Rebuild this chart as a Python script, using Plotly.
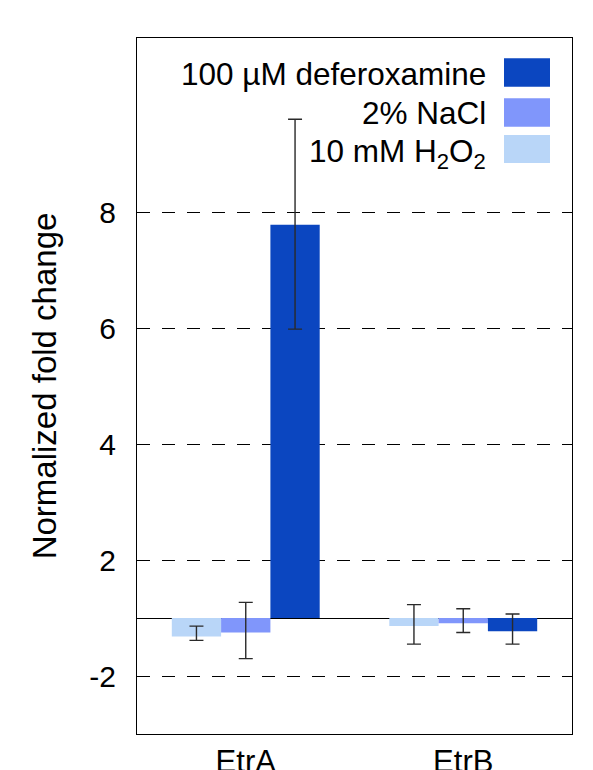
import plotly.graph_objects as go

genes = ["EtrA", "EtrB"]
treatments = ["10 mM H<sub>2</sub>O<sub>2</sub>", "2% NaCl", "100 µM deferoxamine"]
colors = ["#b9d6f8", "#8096fb", "#0b46c0"]

fold_h2o2 = [-1.32, -1.14]
fold_nacl = [-1.25, -1.09]
fold_dfo = [7.78, -1.23]

err_hi_h2o2 = [-1.14, 1.23]
err_lo_h2o2 = [-1.385, -1.45]
err_hi_nacl = [1.27, 1.16]
err_lo_nacl = [-1.70, -1.25]
err_hi_dfo = [9.60, 1.07]
err_lo_dfo = [5.98, -1.45]

tick_labels = ["8", "6", "4", "2", "-2"]
tick_values = [8, 6, 4, 2, -2]


# fold-change axis: +1 and -1 collapse onto the baseline
def to_axis(v):
    return v - 1 if v >= 1 else v + 1


series = [
    (fold_h2o2, err_hi_h2o2, err_lo_h2o2),
    (fold_nacl, err_hi_nacl, err_lo_nacl),
    (fold_dfo, err_hi_dfo, err_lo_dfo),
]

FONT = "Liberation Sans, Arial, sans-serif"
fig = go.Figure()
for name, color, (vals, hi, lo) in zip(treatments, colors, series):
    y = [to_axis(v) for v in vals]
    up = [to_axis(h) - to_axis(v) for h, v in zip(hi, vals)]
    dn = [to_axis(v) - to_axis(l) for l, v in zip(lo, vals)]
    fig.add_trace(go.Bar(
        x=genes, y=y, name=name, marker=dict(color=color, line=dict(width=0)),
        error_y=dict(type="data", symmetric=False, array=up, arrayminus=dn,
                     color="#2a2a2a", thickness=1.4, width=7),
        showlegend=False,
    ))

fig.update_layout(
    width=593, height=770, autosize=False,
    margin=dict(l=137, r=21, t=38, b=36),
    plot_bgcolor="white", paper_bgcolor="white",
    barmode="group", bargap=0.32, bargroupgap=0,
    font=dict(family=FONT, size=31, color="black"),
)
fig.update_xaxes(
    showline=True, linecolor="black", linewidth=1, mirror=True,
    showgrid=False, ticks="", tickfont=dict(size=31), automargin=False,
)
fig.update_yaxes(
    range=[-2, 10], automargin=False,
    tickvals=[to_axis(v) for v in tick_values], ticktext=tick_labels,
    showline=True, linecolor="black", linewidth=1, mirror=True,
    showgrid=True, gridcolor="black", gridwidth=1, griddash="13px,12px",
    zeroline=True, zerolinecolor="black", zerolinewidth=1.2,
    ticks="", ticklabelstandoff=14, tickfont=dict(size=30),
    title=dict(text="Normalized fold change", font=dict(size=33), standoff=22),
)

# legend drawn as right-aligned text with swatches on the right
PLOT_L, PLOT_T, PLOT_W, PLOT_H = 137, 38, 435, 696
def px_x(px):
    return (px - PLOT_L) / PLOT_W
def px_y(py):
    return 1 - (py - PLOT_T) / PLOT_H

legend_rows = [
    (treatments[2], colors[2], 58.3, 86.7, 1.5),
    (treatments[1], colors[1], 98.3, 126.7, 0.5),
    (treatments[0], colors[0], 135.0, 163.0, 4.0),
]
for text, color, top, bot, dy in legend_rows:
    fig.add_shape(type="rect", xref="paper", yref="paper",
                  x0=px_x(504), x1=px_x(550), y0=px_y(bot), y1=px_y(top),
                  fillcolor=color, line=dict(width=0))
    fig.add_annotation(xref="paper", yref="paper", x=px_x(488),
                       y=px_y((top + bot) / 2 + dy), xanchor="right", yanchor="middle",
                       text=text, showarrow=False, font=dict(size=31.5), align="right")

fig.write_html("out.html", config={"displayModeBar": False},
               post_script="document.body.style.margin='0';document.body.style.overflow='hidden';")
